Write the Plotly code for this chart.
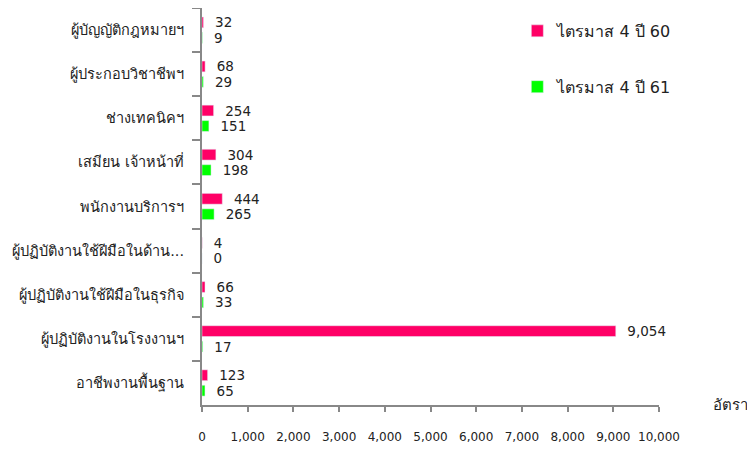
import plotly.graph_objects as go

# categories from top to bottom
categories = ["ผู้บัญญัติกฎหมายฯ", "ผู้ประกอบวิชาชีพฯ", "ช่างเทคนิคฯ",
              "เสมียน เจ้าหน้าที่", "พนักงานบริการฯ",
              "ผู้ปฏิบัติงานใช้ฝีมือในด้าน...", "ผู้ปฏิบัติงานใช้ฝีมือในธุรกิจ",
              "ผู้ปฏิบัติงานในโรงงานฯ", "อาชีพงานพื้นฐาน"]
q4_60 = [32, 68, 254, 304, 444, 4, 66, 9054, 123]
q4_61 = [9, 29, 151, 198, 265, 0, 33, 17, 65]
x_ticks = [0, 1000, 2000, 3000, 4000, 5000, 6000, 7000, 8000, 9000, 10000]

font = "Tahoma, DejaVu Sans, sans-serif"
pad = "\u00a0\u00a0"

fig = go.Figure()
fig.add_trace(go.Bar(y=categories, x=q4_60, orientation="h",
                     name="ไตรมาส 4 ปี 60", marker_color="#FF0066",
                     legendgroup="a",
                     texttemplate=pad + "%{x:,}", textposition="outside",
                     constraintext="none", cliponaxis=False,
                     textfont=dict(size=13.5, color="#222")))
fig.add_trace(go.Bar(y=categories, x=q4_61, orientation="h",
                     name="ไตรมาส 4 ปี 61", marker_color="#00FF00",
                     legendgroup="b",
                     texttemplate=pad + "%{x:,}", textposition="outside",
                     constraintext="none", cliponaxis=False,
                     textfont=dict(size=13.5, color="#222")))

# the page body has an 8px margin, so the figure is a bit smaller
fig.update_layout(
    width=747, height=442,
    margin=dict(l=194, r=96, t=0, b=45, autoexpand=False),
    plot_bgcolor="white", paper_bgcolor="white",
    font=dict(family=font, size=14, color="#222"),
    barmode="group", bargap=0.3, bargroupgap=0.3,
    showlegend=True,
    legend=dict(x=0.69, y=0.985, xanchor="left", yanchor="top",
                traceorder="grouped", tracegroupgap=32,
                font=dict(size=16), bgcolor="rgba(0,0,0,0)"),
)

fig.update_xaxes(range=[0, 10000], tickvals=x_ticks, tickformat=",",
                 showgrid=False, zeroline=False, automargin=False,
                 showline=True, linecolor="#888", linewidth=2,
                 ticks="outside", ticklen=5, tickcolor="#888", tickwidth=2,
                 ticklabelstandoff=15, tickfont=dict(size=12))
fig.update_yaxes(autorange="reversed", showgrid=False, zeroline=False,
                 automargin=False,
                 showline=True, linecolor="#888", linewidth=2,
                 ticks="outside", tickson="boundaries", ticklen=8,
                 tickcolor="#888", tickwidth=2, ticklabelstandoff=13,
                 tickfont=dict(size=14.5))

# axis title at the right end of the x axis
fig.add_annotation(text="อัตรา", xref="paper", yref="paper", x=1, y=0,
                   xanchor="left", yanchor="middle", xshift=52,
                   showarrow=False, font=dict(size=15, color="#222"))

fig.write_html("out.html")
